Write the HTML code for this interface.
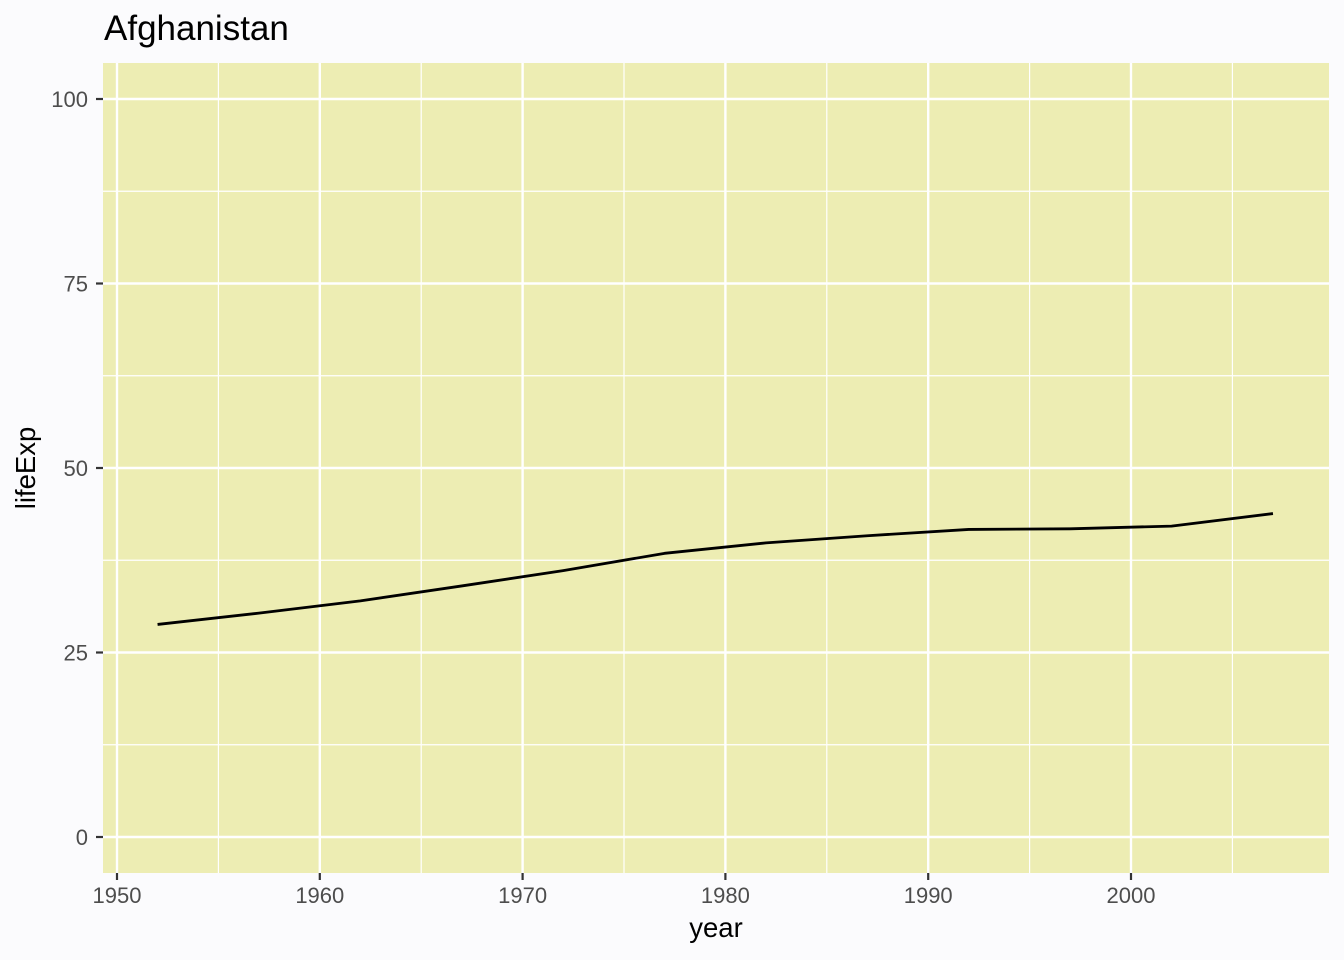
<!DOCTYPE html>
<html>
<head>
<meta charset="utf-8">
<style>
  html, body { margin: 0; padding: 0; background: #fbfbfd; }
  svg { display: block; }
  text { font-family: "Liberation Sans", Arial, sans-serif; }
</style>
</head>
<body>
<svg width="1344" height="960" viewBox="0 0 1344 960" xmlns="http://www.w3.org/2000/svg">
  <rect x="0" y="0" width="1344" height="960" fill="#fbfbfd"/>
  <!-- panel -->
  <rect x="103" y="63" width="1226" height="810" fill="#ededb3"/>
  <!-- minor grid -->
  <g stroke="#ffffff" stroke-width="1.2" fill="none">
    <line x1="103" x2="1329" y1="191.25" y2="191.25"/>
    <line x1="103" x2="1329" y1="375.75" y2="375.75"/>
    <line x1="103" x2="1329" y1="560.25" y2="560.25"/>
    <line x1="103" x2="1329" y1="744.75" y2="744.75"/>
    <line y1="63" y2="873" x1="218.4" x2="218.4"/>
    <line y1="63" y2="873" x1="421.2" x2="421.2"/>
    <line y1="63" y2="873" x1="624" x2="624"/>
    <line y1="63" y2="873" x1="826.8" x2="826.8"/>
    <line y1="63" y2="873" x1="1029.6" x2="1029.6"/>
    <line y1="63" y2="873" x1="1232.4" x2="1232.4"/>
  </g>
  <!-- major grid -->
  <g stroke="#ffffff" stroke-width="2.4" fill="none">
    <line x1="103" x2="1329" y1="99" y2="99"/>
    <line x1="103" x2="1329" y1="283.5" y2="283.5"/>
    <line x1="103" x2="1329" y1="468" y2="468"/>
    <line x1="103" x2="1329" y1="652.5" y2="652.5"/>
    <line x1="103" x2="1329" y1="837" y2="837"/>
    <line y1="63" y2="873" x1="117" x2="117"/>
    <line y1="63" y2="873" x1="319.8" x2="319.8"/>
    <line y1="63" y2="873" x1="522.6" x2="522.6"/>
    <line y1="63" y2="873" x1="725.4" x2="725.4"/>
    <line y1="63" y2="873" x1="928.2" x2="928.2"/>
    <line y1="63" y2="873" x1="1131" x2="1131"/>
  </g>
  <!-- data line -->
  <polyline fill="none" stroke="#000000" stroke-width="2.8" stroke-linejoin="round" stroke-linecap="butt"
    points="157.56,624.45 258.96,613.15 360.36,600.86 461.76,585.93 563.16,570.67 664.56,553.33 765.96,542.88 867.36,535.73 968.76,529.45 1070.16,528.79 1171.56,526.09 1272.96,513.55"/>
  <!-- ticks -->
  <g stroke="#333333" stroke-width="2.2">
    <line x1="96" x2="103" y1="99" y2="99"/>
    <line x1="96" x2="103" y1="283.5" y2="283.5"/>
    <line x1="96" x2="103" y1="468" y2="468"/>
    <line x1="96" x2="103" y1="652.5" y2="652.5"/>
    <line x1="96" x2="103" y1="837" y2="837"/>
    <line y1="873" y2="880" x1="117" x2="117"/>
    <line y1="873" y2="880" x1="319.8" x2="319.8"/>
    <line y1="873" y2="880" x1="522.6" x2="522.6"/>
    <line y1="873" y2="880" x1="725.4" x2="725.4"/>
    <line y1="873" y2="880" x1="928.2" x2="928.2"/>
    <line y1="873" y2="880" x1="1131" x2="1131"/>
  </g>
  <!-- y tick labels -->
  <g fill="#4d4d4d" font-size="22" text-anchor="end">
    <text x="88" y="107">100</text>
    <text x="88" y="291.5">75</text>
    <text x="88" y="476">50</text>
    <text x="88" y="660.5">25</text>
    <text x="88" y="845">0</text>
  </g>
  <!-- x tick labels -->
  <g fill="#4d4d4d" font-size="22" text-anchor="middle">
    <text x="117" y="903">1950</text>
    <text x="319.8" y="903">1960</text>
    <text x="522.6" y="903">1970</text>
    <text x="725.4" y="903">1980</text>
    <text x="928.2" y="903">1990</text>
    <text x="1131" y="903">2000</text>
  </g>
  <!-- axis titles -->
  <text x="716" y="937" font-size="27.5" text-anchor="middle" fill="#000">year</text>
  <text transform="translate(35,468) rotate(-90)" font-size="27.5" text-anchor="middle" fill="#000">lifeExp</text>
  <!-- plot title -->
  <text x="104" y="40" font-size="35" fill="#000">Afghanistan</text>
</svg>
</body>
</html>
